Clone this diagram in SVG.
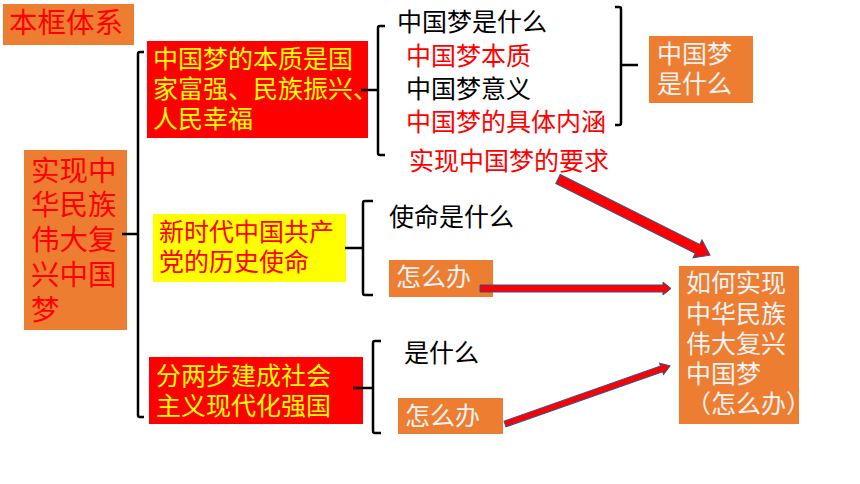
<svg xmlns="http://www.w3.org/2000/svg" width="860" height="484" viewBox="0 0 860 484">
<style>
text{font-family:"Liberation Sans","Noto Sans CJK SC",sans-serif;font-size:25px;}
.or{fill:#ED7D31;}
.rd{fill:#FF0000;}
.yl{fill:#FFFF00;}
.tr{fill:#FF0000;}
.ty{fill:#FFFF00;}
.tk{fill:#000000;}
.tw{fill:#F2F2F2;}
.big{font-size:28.5px;}
.br{fill:none;stroke:#000;stroke-width:2.5;stroke-linejoin:round;}
.ar{fill:#FF0000;stroke:#2F528F;stroke-width:1;}
</style>
<rect width="860" height="484" fill="#FFFFFF"/>

<g id="title">
<rect class="or" x="3" y="4" width="131" height="41"/>
<text class="tr big" x="9" y="33">本框体系</text>
</g>

<g id="main">
<rect class="or" x="24" y="150" width="103" height="180"/>
<text class="tr big" x="31" y="181">实现中</text>
<text class="tr big" x="31" y="215">华民族</text>
<text class="tr big" x="31" y="250">伟大复</text>
<text class="tr big" x="31" y="285">兴中国</text>
<text class="tr big" x="31" y="320">梦</text>
</g>

<g id="essence">
<rect class="rd" x="147" y="41" width="221" height="97"/>
<text class="ty" x="153" y="68">中国梦的本质是国</text>
<text class="ty" x="153" y="98">家富强、民族振兴、</text>
<text class="ty" x="153" y="128">人民幸福</text>
</g>

<g id="mission">
<rect class="yl" x="153" y="214" width="193" height="68"/>
<text class="tr" x="159" y="241">新时代中国共产</text>
<text class="tr" x="159" y="271">党的历史使命</text>
</g>

<g id="twosteps">
<rect class="rd" x="149" y="357" width="214" height="67"/>
<text class="ty" x="156" y="385">分两步建成社会</text>
<text class="ty" x="156" y="415">主义现代化强国</text>
</g>

<g id="list1">
<text class="tk" x="397" y="31">中国梦是什么</text>
<text class="tr" x="406" y="65">中国梦本质</text>
<text class="tk" x="406" y="98">中国梦意义</text>
<text class="tr" x="406" y="131">中国梦的具体内涵</text>
<text class="tr" x="409" y="170">实现中国梦的要求</text>
</g>

<g id="whatis">
<rect class="or" x="649" y="36" width="104" height="67"/>
<text class="tw" x="657" y="63">中国梦</text>
<text class="tw" x="657" y="93">是什么</text>
</g>

<g id="mission-what">
<text class="tk" x="389" y="226">使命是什么</text>
</g>

<g id="mission-how">
<rect class="or" x="389" y="260" width="104" height="37"/>
<text class="tw" x="396" y="286">怎么办</text>
</g>

<g id="steps-what">
<text class="tk" x="404" y="362">是什么</text>
</g>

<g id="steps-how">
<rect class="or" x="398" y="398" width="105" height="36"/>
<text class="tw" x="405" y="425">怎么办</text>
</g>

<g id="howto">
<rect class="or" x="679" y="266" width="120" height="158"/>
<text class="tw" x="686" y="292">如何实现</text>
<text class="tw" x="686" y="323">中华民族</text>
<text class="tw" x="686" y="353">伟大复兴</text>
<text class="tw" x="686" y="383">中国梦</text>
<text class="tw" x="686" y="413">（怎么办）</text>
</g>

<g id="connectors">
<path class="br" d="M144,52 L140,52 Q138,52 138,54 L138,415 Q138,417 140,417 L144,417 M122,234 L138,234"/>
<path class="br" d="M385,26 L380,26 Q378,26 378,28 L378,153 Q378,155 380,155 L385,155 M361,90 L378,90"/>
<path class="br" d="M615,7 L619,7 Q621,7 621,9 L621,123 Q621,125 619,125 L615,125 M621,65 L638,65"/>
<path class="br" d="M373,201 L365,201 Q363,201 363,203 L363,293 Q363,295 365,295 L373,295 M345,248 L363,248"/>
<path class="br" d="M381,341 L375,341 Q373,341 373,343 L373,431 Q373,433 375,433 L381,433 M353,388 L373,388"/>
<g transform="translate(558,179) rotate(26.6)">
<polygon class="ar" points="0,-5 156,-5 156,-10 170,0 156,10 156,5 0,5"/>
</g>
<g transform="translate(480,288.5)">
<polygon class="ar" points="0,-3.5 183,-3.5 183,-6.5 191,0 183,6.5 183,3.5 0,3.5"/>
</g>
<g transform="translate(505,424) rotate(-19.4)">
<polygon class="ar" points="0,-3 166,-3 166,-6 175,0 166,6 166,3 0,3"/>
</g>
</g>
</svg>
